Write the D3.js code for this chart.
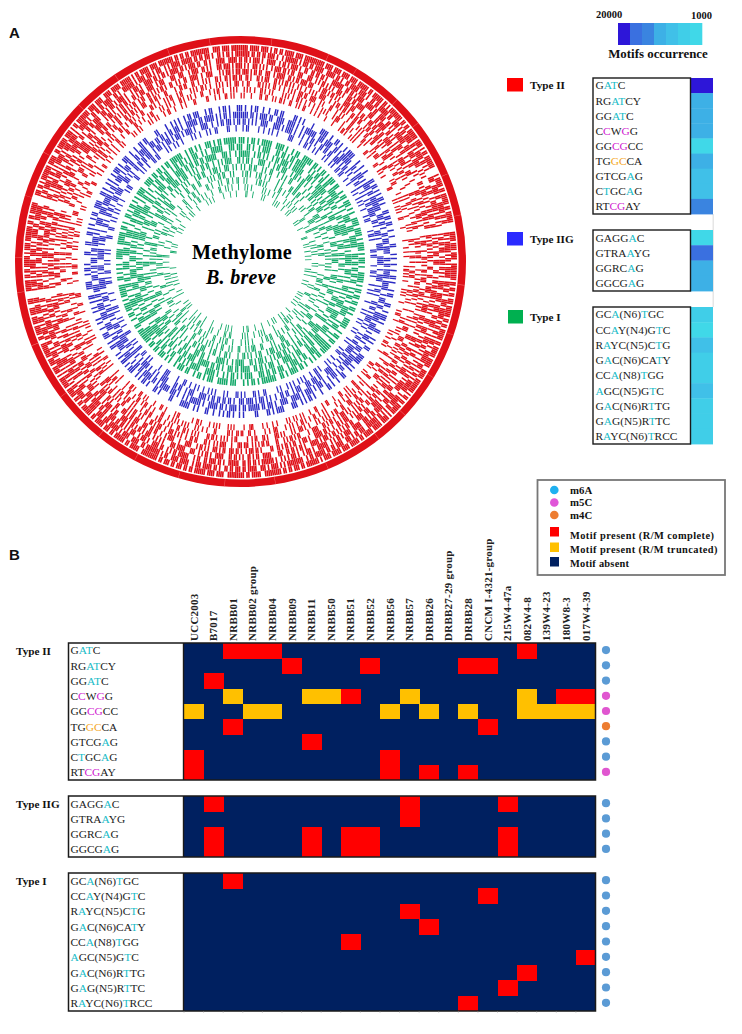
<!DOCTYPE html>
<html><head><meta charset="utf-8">
<style>html,body{margin:0;padding:0;background:#fff}svg{display:block}text{font-family:"Liberation Serif",serif}</style>
<script src="https://cdnjs.cloudflare.com/ajax/libs/d3/7.8.5/d3.min.js"></script>
</head><body><svg id="c" width="742" height="1034"></svg>
<script>
// ---------- Data ----------
const strains = ["UCC2003","B7017","NRBB01","NRBB02 group","NRBB04","NRBB09","NRBB11","NRBB50","NRBB51","NRBB52","NRBB56","NRBB57","DRBB26","DRBB27-29 group","DRBB28","CNCM I-4321-group","215W4-47a","082W4-8","139W4-23","180W8-3","017W4-39"];
const typeIIMotifs = ["G[AT]C","RG[AT]CY","GG[AT]C","C[C]W[G]G","GG[CG]CC","TG[GC]CA","GTCG[A]G","C[T]GC[A]G","RT[CG]AY"];
const typeIIGMotifs = ["GAGG[A]C","GTRA[A]YG","GGRC[A]G","GGCG[A]G"];
const typeIMotifs = ["GC[A](N6)[T]GC","CC[A]Y(N4)G[T]C","R[A]YC(N5)C[T]G","G[A]C(N6)CA[T]Y","CC[A](N8)[T]GG","[A]GC(N5)G[T]C","G[A]C(N6)R[T]TG","G[A]G(N5)R[T]TC","R[A]YC(N6)[T]RCC"];
// One char per strain: . absent, R complete, Y truncated
const typeIICells = [
 "..RRR............R...",
 ".....R...R....RR.....",
 ".R...................",
 "..Y...YYR..Y.....Y.RR",
 "Y..YY.....Y.Y.Y..YYYY",
 "..R............R.....",
 "......R..............",
 "R.........R..........",
 "R.........R.R.R......"];
const typeIIGCells = [
 ".R.........R....R....",
 "...........R.........",
 ".R....R.RR......R....",
 ".R....R.RR......R...."];
const typeICells = [
 "..R..................",
 "...............R.....",
 "...........R.........",
 "............R........",
 "........R............",
 "....................R",
 ".................R...",
 "................R....",
 "..............R......"];
const typeIIMods = ["m6A","m6A","m6A","m5C","m5C","m4C","m6A","m6A","m5C"];
const typeIIGMods = ["m6A","m6A","m6A","m6A"];
const typeIMods = ["m6A","m6A","m6A","m6A","m6A","m6A","m6A","m6A","m6A"];
const occurrencePalette = ["#2d16d8","#3a70e0","#3a84e0","#3db0e6","#40c0e8","#40cee8","#40d8e8"];
const typeIIOcc = [0,3,3,3,6,3,4,4,2];
const typeIIGOcc = [6,1,3,3];
const typeIOcc = [5,6,4,5,5,4,5,5,5];
// Estimated tick occupancy of each circular track (hex = 4 ticks), outermost first
const redTracks = [
"F7DEB6FBDF FDEF7BDFB7 ED7FB6FDEB 7F0BEDFB7E 0FBDE7FDB6 EFDB7EDFBE 7DFEB6FD7B EFB7DEFBD7 F6EDBFE7DB FE7BDFB6ED DBFE7DBF6E FB7EDBEFD7 BDFE6FBDE7 0FDB7EBDFE DBF0ED7FBE 6FDEB7FBDE 7BEFD6FBDF EDB7FE7BDF",
"FB6DE97F5D BE7DA6FBD3 6FD9EB7DAF B50E7D9FB6 0D7EB5F9DA 7BF6DAE9FD D6BF97ED5B F9DAE7B6FD A7FD5EB9F6 ED96FBA7DE 6BFD9E7AFD DE79BF6AD5 F7A6DEB9F7 0BD6F9EA7D 9FE0B7D6AF D7BE9FA6DB E69FD7BAE5 7DFB6E9AD7",
"B5E9F2D7A6 6DA3F9B5E7 D9E6A7F3BD F2A0D97EB5 0B6E5DA9F3 E79BD2F6A5 5AD7E3B9F6 B9F3D6A7E5 D2EA97F5B6 7E5BD9A3F6 A6F2E9D5B7 9B7DE3A6F5 E2B9F7D5A6 0F5A9DB6E3 6DB0E5F7A9 B3F9A6DE75 D7A2E9F6B5 F6BD9A3E7D",
"A9D52F6B38 E56A9D3B7C 39BE6A5D92 C50D7A96E3 0AD39C65B7 D6A39E5B2C 6BC29DA5E3 9E36AB5D7C 5AD9C3E6B2 B63E5A9C7D C2A9D6B5E3 5E9B3CA6D7 A7D25E9B6C 0C96A3D5BE E3A0B5C96D 69BE3A7C5D 2DA6B9E5C3 9C5E6A3BD7",
"7AD9CBE6B7 B85D6A3DC5 A76D9F58BE 9C40E5A76B 0D6AD18C5E 4BE75A9D36 D15AAE36D9 6A9D64B7C5 D35ACC16E9 6E6B95A3C4 7A4D9C76B8 C59E2A6D71 49B6C3A5EA 0A5D6B92CB B6C05A9E74 5A3EAC6D96 AD5966AB4C A67C9E15D7",
"9A35C6AD4A 4A9E25AD36 C5B3AA6D29 6A20CD53A4 09C46A6B85 D2A5A41C6D 36CDAA5946 A95D2D63C8 35A8C36A9D C47A961B25 5C9D64A6A3 2A6AC5339D 9C54A3685B 0639ACC254 A5D0696C43 A8C75D1966 35A9C6D182 6C64A8D35D",
"4C1AA64953 B3C50C4A26 2A65985C34 C810A64936 05A6C8496B 6908A5C39A A4659C0853 1C634A9425 CA15C2C690 34A96C152C C5268D90A6 9A45C36548 4CB5A2186A 0186A4C95A A540C69186 2C95A65434 9A4C1A4562 C15348A94E",
"2A46940A93 4924A85C46 8A3415C260 1604A28415 0684C93609 A5082C5441 0C46418A65 52480A4C96 4A41C90263 6580C24A15 2A460934C8 C41682A560 5A4128C916 0480A2C695 641C08A260 A205948C46 0C9160A523 4A4612C854",
"A106629A31 4C2484105A 2A10640C52 0180A54608 0424816A41 5082C40526 8401A28861 4610C86214 A5024481C4 0A82A41640 1A04C20A61 6410824C48 0A2540861C 0219C40A46 8540A02C18 1262448A01 4A05284C42 4180C24650"];
const blueTracks = [
"A5926C1A84 3C9A5E2486 D5A36C918A 49A2C65D18 A63E5192C4 5A9C3D6182 96A4C53E18 2C5A9D6A34 E4A2963C5A 18C6A59E34 A5D3926C18 4A96E2C5A3",
"F6BD9E7A5F 9DE6BF35D7 B7F9DA6EF3 6FBE5D9F7A E9D7F6BA5D 7AF9E5DBF6 BD6F97EA5D F5BEDA79F6 9E7BD6F3AD D6FA9E7BF5 AF5D9BE76D 6E9FB7D5AF",
"6A9E3D7A52 D36CF5A9B4 A5BE69D3C7 C9E5A36BD4 5B7DA93C6E E3A6C95D7B 96DB5E3A6C 3CA5E96B7D B96D3A7E5C 7E5C9A6D3B C3A9B6E5D7 5D7A3C96EB",
"5824A40E13 4A14A6C485 2A4582D06C 2684A10A28 A142C4A164 54A8A06585 6142A4A4C4 1C40A6650C 4A2C441A62 8A06314A48 2C18A46C14 A4148A60C4"];
const greenTracks = [
"D6BE7A59F6 B5D96EA7BD 7AE9F5B6D3 E5B7DA96F5 9FD6A3BE75 A6E95DB7F6 5BD7E6A9F3 F69AD5E7B6 B7E5A9D6FD",
"9A5E36B7C5 6D9FA53CE7 E3B6D95A7C 5CA79E6BD3 B6E3D5A97C 7D59A6CBE3 A5E96D3C7B 3CB7E5A96D 96D5CA7E3B",
"F96A5BD7E3 A7E5D96BF3 6BF3A9D5E7 D5E7B63AF9 3AD9F6E5B7 E7B65A9FD3 5AF9E7D3B6 BD36F9A5E7 9F6DB7E3A5",
"5A3C96E2D6 93D6A5C7E2 E69A2C53B7 2C7DB5A96E A5D63E97C2 6E2C95AD73 C9A73E6D25 3E5CA2D69B D72A6C95E3",
"A6C5312986 25A9C64E13 96E13A5C28 4C38A926D5 D1A5642C9A 3AC92586E1 6592DA1C48 C84E369A25 2A16C5D394",
"5A2C904836 C8163A5924 2A950C6148 91C46A2385 063A8C5192 A5182C6930 29C40A8D56 C6A1395C02 31982A6C50",
"2816A04C90 90A21C6483 4C0813A625 1A5208C946 C8129046A3 0A64912C85 A2180C5960 506A28410C 4C8190A326",
"1480522409 4A01826025 2814240A18 0A14568040 5442A01984 2816542608 4114A84460 8424C10A14 2648418A42",
"0C20280542 1402840614 4480A42405 2481048510 4106401288 0810440A40 4824908006 2801240450 4024804108"];
const outerRingCuts = [8,23,31,44,52,67,78,96,109,121,133,142,157,171,184,196,208,219,233,248,262,271,287,299,314,326,341,352];
const typeLegend = ["Type II","Type IIG","Type I"];
const modLegend = ["m6A","m5C","m4C"];
const stateLegend = ["Motif present  (R/M complete)","Motif present  (R/M truncated)","Motif absent"];

// ---------- Styles ----------
const stateColor = {".":"#002060","R":"#ff0000","Y":"#ffc000"};
const modLetter = {"m6A":"#20bcc8","m5C":"#d020d0","m4C":"#f5a623"};
const modDot = {"m6A":"#5b9bd5","m5C":"#e056d0","m4C":"#ed7d31"};
const modDotLegend = {"m6A":"#1fb0f0","m5C":"#e056d8","m4C":"#ed7d31"};
const RED="#df1018", BLUE="#2a2ac4", GREEN="#12a868";

const svg = d3.select("#c");

// ---------- Panel labels ----------
[["A",9,38],["B",9,560]].forEach(([t,x,y])=>svg.append("text").text(t).attr("x",x).attr("y",y)
  .style("font-family","'Liberation Sans',sans-serif").style("font-weight","700").style("font-size","15px").attr("fill","#111"));

// ---------- Circular plot ----------
const cx=240.5, cy=261.5;
const ring = svg.append("g").attr("transform",`translate(${cx},${cy})`);
const arc = d3.arc();
const toRad = d3.scaleLinear().domain([0,360]).range([0,2*Math.PI]);
ring.append("path").attr("d",arc({innerRadius:218,outerRadius:225.5,startAngle:0,endAngle:2*Math.PI})).attr("fill",RED);
ring.selectAll("path.cut").data(outerRingCuts).join("path").attr("class","cut")
  .attr("d",d=>arc({innerRadius:218,outerRadius:225.5,startAngle:toRad(d),endAngle:toRad(d+0.1)})).attr("fill","#f58080");

function bits(str){
  const s=str.replace(/\s+/g,""); const out=[];
  for(const ch of s){const v=parseInt(ch,16); for(let k=3;k>=0;k--) out.push((v>>k)&1);}
  return out;
}
function tracks(data,outer,inner,color,name,tickFrac){
  const rs=d3.scaleBand().domain(d3.range(data.length)).range([inner,outer]).paddingInner(0.015);
  data.forEach((str,t)=>{
    const b=bits(str), ang=d3.scaleLinear().domain([0,b.length]).range([0,2*Math.PI]);
    const ri=rs(data.length-1-t), ro=ri+rs.bandwidth();
    const on=b.map((v,i)=>v?i:-1).filter(i=>i>=0);
    // each tick is its own thin radial arc; neighbouring ticks blend into dense clusters
    ring.append("g").attr("class",name).selectAll("path").data(on).join("path")
      .attr("d",i=>arc({innerRadius:ri,outerRadius:ro,startAngle:ang(i+(1-tickFrac)/2),endAngle:ang(i+(1+tickFrac)/2)}))
      .attr("fill",color);
  });
}
tracks(redTracks,216.5,163,RED,"red",0.88);
tracks(blueTracks,156.5,130,BLUE,"blue",0.72);
tracks(greenTracks,124.5,64.5,GREEN,"green",0.74);
svg.append("text").text("Methylome").attr("x",cx+1.5).attr("y",259).attr("text-anchor","middle")
  .style("font-weight","700").style("font-size","20.2px").style("letter-spacing","0.3px").attr("fill","#000");
svg.append("text").text("B. breve").attr("x",cx+.5).attr("y",284).attr("text-anchor","middle")
  .style("font-weight","700").style("font-style","italic").style("font-size","20px").style("letter-spacing","0.3px").attr("fill","#000");

// ---------- Motif text helper ----------
function motifText(g,motif,x,y,color){
  const t=g.append("text").attr("x",x).attr("y",y).attr("dy","0.34em").style("font-size","11.4px").attr("fill","#222");
  motif.split(/(\[[^\]]+\])/).filter(Boolean).forEach(p=>{
    if(p[0]==="[") t.append("tspan").text(p.slice(1,-1)).attr("fill",color);
    else t.append("tspan").text(p);
  });
}

// ---------- Right-hand occurrence panel ----------
const occX=d3.scaleBand().domain(d3.range(occurrencePalette.length)).range([618,702]);
svg.append("g").selectAll("rect").data(occurrencePalette).join("rect")
  .attr("x",(d,i)=>occX(i)).attr("y",23).attr("width",occX.bandwidth()+.3).attr("height",22).attr("fill",d=>d);
const bold=(t,x,y,fs,anchor)=>svg.append("text").text(t).attr("x",x).attr("y",y).attr("text-anchor",anchor||"start")
  .style("font-weight","700").style("font-size",fs+"px").attr("fill","#111");
bold("20000",596,18,10.5); bold("1000",691,19,10.5);
bold("Motifs occurrence",658,58,12.9,"middle");

svg.append("rect").attr("x",712.5).attr("y",214).attr("width",1.5).attr("height",93).attr("fill","#e6e6e6");
function occPanel(motifs,occ,mods,top,bottom){
  const y=d3.scaleBand().domain(d3.range(motifs.length)).range([top,bottom]);
  const g=svg.append("g");
  g.selectAll("rect.o").data(occ).join("rect").attr("class","o").attr("x",690).attr("width",23)
    .attr("y",(d,i)=>y(i)).attr("height",y.bandwidth()+.4).attr("fill",d=>occurrencePalette[d]);
  g.append("rect").attr("x",593).attr("y",top).attr("width",97.5).attr("height",bottom-top).attr("fill","#fff").attr("stroke","#1a1a1a").attr("stroke-width",1.4);
  motifs.forEach((m,i)=>motifText(g,m,595.5,y(i)+y.bandwidth()/2,modLetter[mods[i]]));
}
occPanel(typeIIMotifs,typeIIOcc,typeIIMods,78,214);
occPanel(typeIIGMotifs,typeIIGOcc,typeIIGMods,230,291);
occPanel(typeIMotifs,typeIOcc,typeIMods,307,444);
[["#ff0000",507,78],["#2a2aff",507,232],["#00b050",508,310]].forEach(([c,x,y],i)=>{
  svg.append("rect").attr("x",x).attr("y",y).attr("width",x===508?15:16).attr("height",13.5).attr("fill",c);
  bold(typeLegend[i],530,y+11,11.2);
});

// ---------- Legend box ----------
svg.append("rect").attr("x",537.5).attr("y",480).attr("width",187.5).attr("height",95).attr("fill","#fff").attr("stroke","#777").attr("stroke-width",1.8);
const legY=d3.scalePoint().domain(modLegend).range([490,515]);
modLegend.forEach(m=>{
  svg.append("circle").attr("cx",554.3).attr("cy",legY(m)).attr("r",4.3).attr("fill",modDotLegend[m]);
  bold(m,570,legY(m)+3.5,10.8);
});
const stateKeys=["R","Y","."], stateY=[532,547.5,562], stateTextY=[539,553,567];
stateLegend.forEach((s,i)=>{
  svg.append("rect").attr("x",550).attr("y",stateY[i]-5).attr("width",9).attr("height",9.5).attr("fill",stateColor[stateKeys[i]]);
  const len=[144,147.5,59][i];
  bold(s,570,stateTextY[i],10.4).attr("textLength",len).attr("lengthAdjust","spacing");
});

// ---------- Heatmap ----------
const colX=d3.scaleBand().domain(strains).range([184,595.5]);
svg.append("g").selectAll("text").data(strains).join("text").text(d=>d)
  .attr("transform",d=>`translate(${colX(d)+colX.bandwidth()/2+3.8},641) rotate(-90)`)
  .style("font-size","11px").style("font-weight","700").style("letter-spacing","0.25px").attr("fill","#222");

function heat(label,motifs,cells,mods,top,bottom){
  const y=d3.scaleBand().domain(motifs).range([top,bottom]);
  const g=svg.append("g");
  g.append("rect").attr("x",68.5).attr("y",top).attr("width",115.5).attr("height",bottom-top).attr("fill","#fff");
  g.append("rect").attr("x",184).attr("y",top).attr("width",411.5).attr("height",bottom-top).attr("fill",stateColor["."]);
  motifs.forEach((m,r)=>{
    const row=cells[r].split("");
    // slight overlap so adjacent cells merge into one block, as in the reference
    g.selectAll(null).data(row.map((c,j)=>({c,s:strains[j]})).filter(d=>d.c!==".")).join("rect")
      .attr("x",d=>colX(d.s)).attr("y",y(m)).attr("width",colX.bandwidth()+.5).attr("height",y.bandwidth()+.3)
      .attr("fill",d=>stateColor[d.c]).attr("shape-rendering","crispEdges");
    motifText(g,m,70.5,y(m)+y.bandwidth()/2,modLetter[mods[r]]);
    g.append("circle").attr("cx",606).attr("cy",y(m)+y.bandwidth()/2-.5).attr("r",4.1).attr("fill",modDot[mods[r]]);
  });
  g.append("rect").attr("x",68.5).attr("y",top).attr("width",527).attr("height",bottom-top).attr("fill","none").attr("stroke","#1a1a1a").attr("stroke-width",1.5);
  g.append("line").attr("x1",183.5).attr("x2",183.5).attr("y1",top).attr("y2",bottom).attr("stroke","#1a1a1a").attr("stroke-width",1.4);
  bold(label,16,top+12,11.2);
}
heat("Type II",typeIIMotifs,typeIICells,typeIIMods,643,780);
heat("Type IIG",typeIIGMotifs,typeIIGCells,typeIIGMods,796,857);
heat("Type I",typeIMotifs,typeICells,typeIMods,873,1011);
svg.append("g").selectAll("line").data(strains).join("line")
  .attr("x1",d=>colX(d)).attr("x2",d=>colX(d)).attr("y1",1011.5).attr("y2",1013).attr("stroke","#bbb").attr("stroke-width",.6);
</script></body></html>
